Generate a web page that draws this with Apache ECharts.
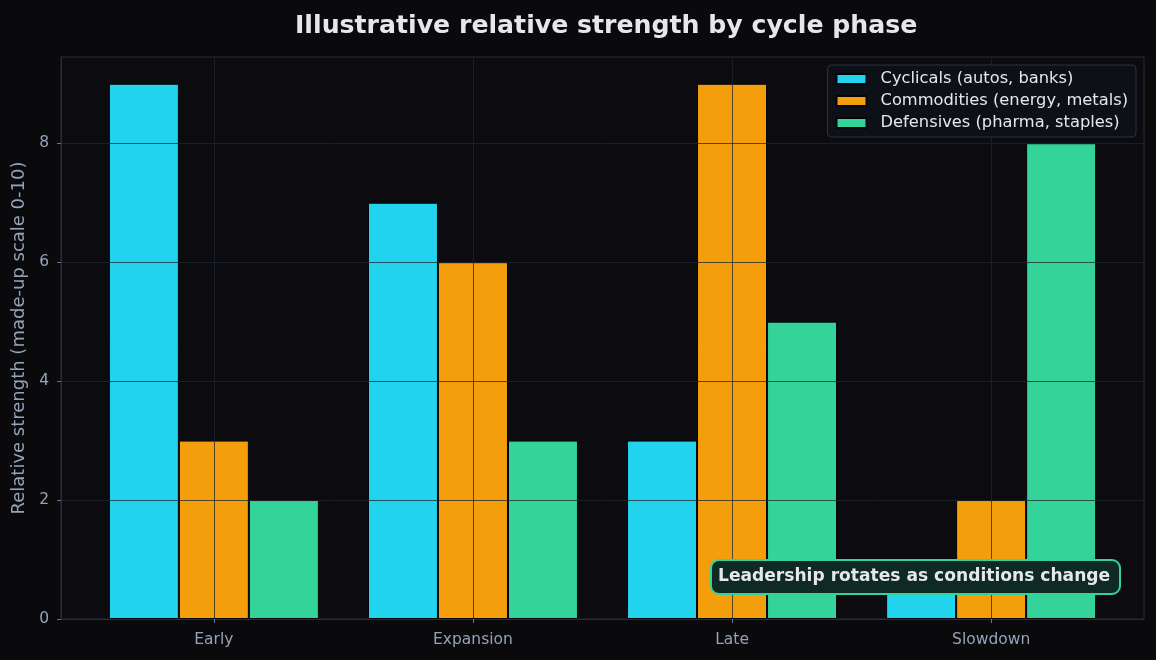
<!DOCTYPE html>
<html>
<head>
<meta charset="utf-8">
<script src="https://cdn.jsdelivr.net/npm/echarts@6/dist/echarts.min.js"></script>
<style>
  html, body { margin: 0; padding: 0; background: #0a0a0d; }
  #chart { width: 1156px; height: 660px; }
</style>
</head>
<body>
<div id="chart"></div>
<script>
// datos del grafico
const phases = ["Early", "Expansion", "Late", "Slowdown"];
const cyclicals = [9, 7, 3, 1];
const commodities = [3, 6, 9, 2];
const defensives = [2, 3, 5, 8];
const seriesNames = ["Cyclicals (autos, banks)", "Commodities (energy, metals)", "Defensives (pharma, staples)"];
const colors = ["#22d3ee", "#f59e0b", "#34d399"];
const yTicks = [0, 2, 4, 6, 8];
const note = "Leadership rotates as conditions change";

const myChart = echarts.init(document.getElementById("chart"));
const font = "DejaVu Sans";
const gridLine = "rgba(30, 38, 50, 0.75)";

const makeSeries = (name, values, color) => ({
  name: name,
  type: "bar",
  barWidth: 70,
  barGap: "0%",
  itemStyle: { color: color, borderColor: "#05050a", borderWidth: 1 },
  data: values.map((v, i) => [i, v])
});

myChart.setOption({
  backgroundColor: "#0a0a0d",
  animation: false,
  textStyle: { fontFamily: font },
  title: {
    text: "Illustrative relative strength by cycle phase",
    left: 290,
    top: 9,
    textStyle: { color: "#e5e7eb", fontSize: 25.2, fontWeight: "bold", fontFamily: font }
  },
  legend: {
    right: 20,
    top: 65,
    orient: "vertical",
    icon: "rect",
    itemWidth: 30,
    itemHeight: 10,
    itemGap: 6,
    padding: [6, 8, 6, 8],
    backgroundColor: "#0d1117",
    borderColor: "#2a3140",
    borderWidth: 1,
    borderRadius: 4,
    z: 10,
    textStyle: { color: "#e5e7eb", fontSize: 16.3, fontFamily: font, padding: [0, 0, 0, 9] },
    data: seriesNames
  },
  grid: {
    left: 61, right: 12, top: 57, bottom: 41,
    show: true,
    backgroundColor: "#0c0c10",
    borderColor: "#262c38",
    borderWidth: 1
  },
  xAxis: {
    type: "value",
    min: -0.59,
    max: 3.59,
    z: 5,
    axisLine: { show: true, onZero: false, lineStyle: { color: "#262c38" } },
    axisTick: { show: true, customValues: [0, 1, 2, 3], length: 4, lineStyle: { color: "#64748b" } },
    axisLabel: {
      customValues: [0, 1, 2, 3],
      formatter: v => phases[v],
      color: "#94a3b8",
      fontSize: 15.5,
      margin: 13
    },
    splitLine: { show: true, lineStyle: { color: gridLine, width: 1 } }
  },
  yAxis: {
    type: "value",
    min: 0,
    max: 9.45,
    z: 5,
    name: "Relative strength (made-up scale 0-10)",
    nameLocation: "middle",
    nameGap: 32,
    nameTextStyle: { color: "#94a3b8", fontSize: 18 },
    axisLine: { show: true, onZero: false, lineStyle: { color: "#262c38" } },
    axisTick: { show: true, customValues: yTicks, length: 4, lineStyle: { color: "#64748b" } },
    axisLabel: { customValues: yTicks, color: "#94a3b8", fontSize: 15.5, margin: 12 },
    splitLine: { show: true, lineStyle: { color: gridLine, width: 1 } }
  },
  graphic: [{
    type: "rect",
    left: 710,
    top: 559,
    z: 100,
    shape: { width: 409, height: 34, r: 8 },
    style: { fill: "#0f2a24", stroke: "#34d399", lineWidth: 2 }
  }, {
    type: "text",
    left: 718,
    top: 568,
    z: 101,
    style: {
      text: note,
      fill: "#e5e7eb",
      font: "bold 17.1px 'DejaVu Sans'"
    }
  }],
  series: [
    makeSeries(seriesNames[0], cyclicals, colors[0]),
    makeSeries(seriesNames[1], commodities, colors[1]),
    makeSeries(seriesNames[2], defensives, colors[2])
  ]
});

window.addEventListener("resize", () => myChart.resize());
</script>
</body>
</html>
